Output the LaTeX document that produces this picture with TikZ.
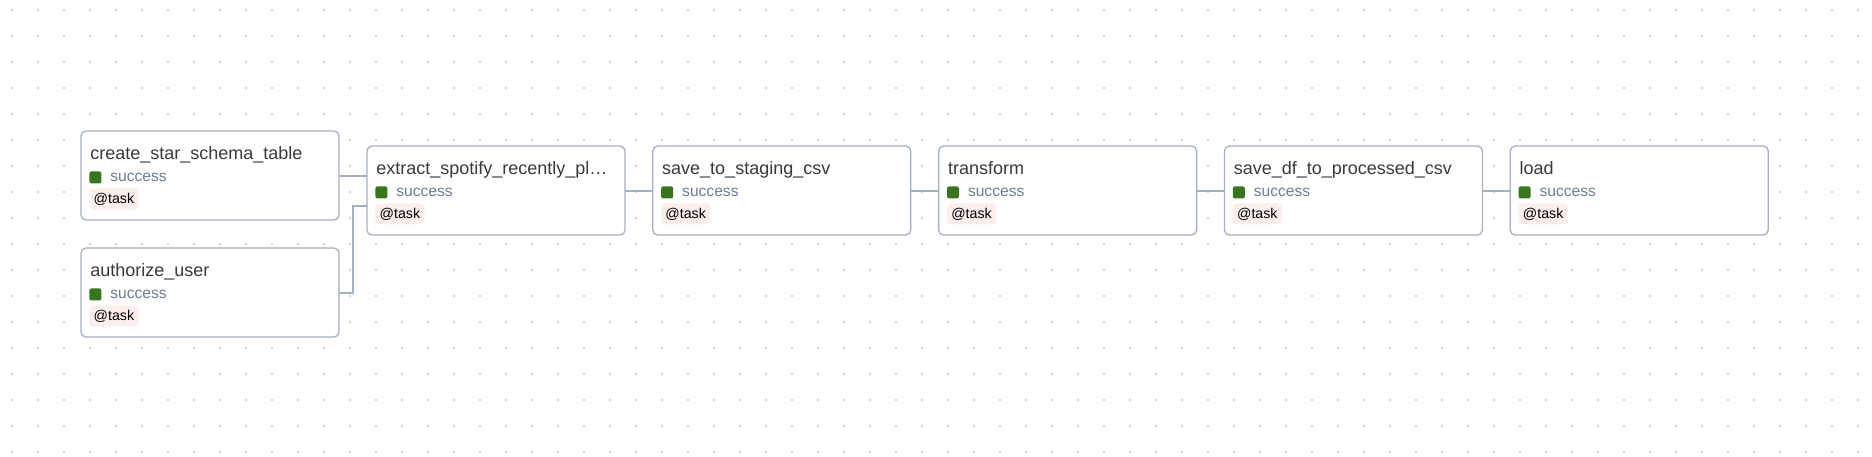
\documentclass[tikz,border=0pt]{standalone}
\usepackage{fontspec}
\setmainfont{Liberation Sans}
\usetikzlibrary{positioning}
\definecolor{edgegray}{HTML}{A6B0C0}
\definecolor{titlegray}{HTML}{3A3A3A}
\definecolor{statusgray}{HTML}{6E7D94}
\definecolor{okgreen}{HTML}{38761D}
\definecolor{tagpink}{HTML}{FCEFEB}
\definecolor{dotgray}{HTML}{C4C4C4}

\begin{document}
\begin{tikzpicture}[
    node distance=13.9pt,
    taskbox/.style={rectangle, draw=edgegray, line width=0.65pt, rounded corners=2.5pt,
                    fill=white, minimum width=129pt, minimum height=44.5pt, inner sep=0pt,
                    outer sep=0pt},
    tname/.style={anchor=base west, inner sep=0pt, text=titlegray,
                  font=\fontsize{9}{11}\selectfont},
    okbox/.style={rectangle, fill=okgreen, rounded corners=1pt, minimum size=6pt,
                  inner sep=0pt, anchor=north west},
    oktext/.style={anchor=base west, inner sep=0pt, text=statusgray,
                   font=\fontsize{7.8}{9}\selectfont},
    tag/.style={rectangle, fill=tagpink, rounded corners=2pt, minimum width=24.5pt,
                minimum height=10.5pt, inner sep=0pt, anchor=north west,
                font=\fontsize{7.1}{8.5}\selectfont},
    link/.style={draw=edgegray, line width=1pt}
  ]

  % --- canvas and dot grid ---
  \fill[white] (0,0) rectangle (936pt,-228pt);
  \useasboundingbox (0,0) rectangle (936pt,-228pt);
  \foreach \i in {0,...,71}
    \foreach \j in {0,...,17}
      \fill[dotgray] ({(6+13*\i)*1pt},{-(5+13*\j)*1pt}) circle (0.55pt);

  % --- connectors ---
  \coordinate (j1) at (176.5pt,-124pt);

  % --- upstream column ---
  \node[taskbox, anchor=north west] (create) at (40.5pt,-65.5pt) {};
  \node[taskbox, below=14pt of create] (auth) {};

  % --- main chain ---
  \node[taskbox, anchor=north west] (extract) at (183.5pt,-73pt) {};
  \node[taskbox, right=of extract] (staging) {};
  \node[taskbox, right=of staging] (transform) {};
  \node[taskbox, right=of transform] (saveproc) {};
  \node[taskbox, right=of saveproc] (load) {};

  % titles
  \node[tname] (create-t) at ([xshift=4.5pt,yshift=-14pt]create.north west) {create\_star\_schema\_table};
  \node[tname] (auth-t) at ([xshift=4.5pt,yshift=-14pt]auth.north west) {authorize\_user};
  \node[tname] (extract-t) at ([xshift=4.5pt,yshift=-14pt]extract.north west) {extract\_spotify\_recently\_pl…};
  \node[tname] (staging-t) at ([xshift=4.5pt,yshift=-14pt]staging.north west) {save\_to\_staging\_csv};
  \node[tname] (transform-t) at ([xshift=4.5pt,yshift=-14pt]transform.north west) {transform};
  \node[tname] (saveproc-t) at ([xshift=4.5pt,yshift=-14pt]saveproc.north west) {save\_df\_to\_processed\_csv};
  \node[tname] (load-t) at ([xshift=4.5pt,yshift=-14pt]load.north west) {load};

  % status and decorator badges
  \foreach \b in {create,auth,extract,staging,transform,saveproc,load} {
    \node[okbox] (\b-ok) at ([xshift=4pt,yshift=-20pt]\b.north west) {};
    \node[oktext] (\b-st) at ([xshift=14.5pt,yshift=-25pt]\b.north west) {success};
    \node[tag] (\b-tag) at ([xshift=4pt,yshift=-28.5pt]\b.north west) {@task};
  }

  % edges
  \draw[link] (create.east) -- (create.east -| extract.west);
  \draw[link] (auth.east) -| (j1) |- ([yshift=-7.75pt]extract.west);
  \draw[link] (extract) -- (staging);
  \draw[link] (staging) -- (transform);
  \draw[link] (transform) -- (saveproc);
  \draw[link] (saveproc) -- (load);
\end{tikzpicture}
\end{document}
